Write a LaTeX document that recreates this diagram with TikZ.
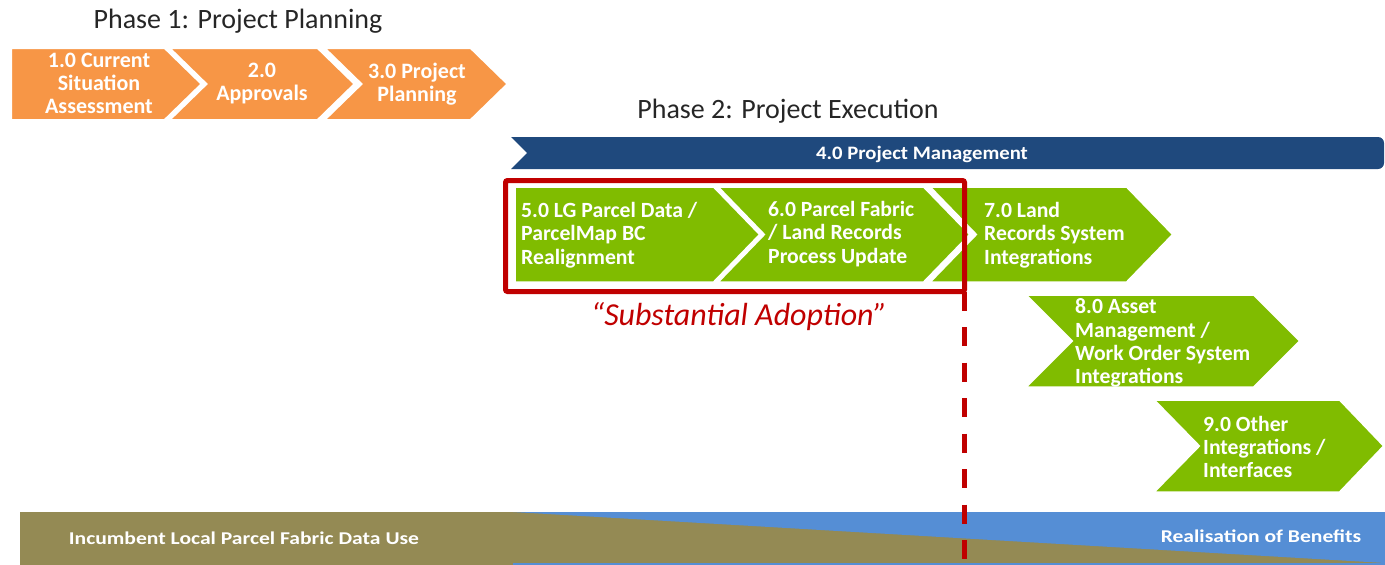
\documentclass[tikz,border=0pt]{standalone}
\usepackage{fontspec}
\setmainfont{Carlito}
\definecolor{orng}{HTML}{F79646}
\definecolor{grn}{HTML}{80BC00}
\definecolor{navy}{HTML}{1F497D}
\definecolor{olivebar}{HTML}{948A54}
\definecolor{skyb}{HTML}{558ED5}
\definecolor{dred}{HTML}{C00000}
% #1 style, #2 x left, #3 x body end, #4 y top, #5 y bottom, #6 tip depth, #7 notch depth
\newcommand\mychev[7]{\path[#1] (#2,#4) -- (#3,#4) -- ({#3+#6},{(#4+#5)/2}) -- (#3,#5) -- (#2,#5) -- ({#2+#7},{(#4+#5)/2}) -- cycle;}
\tikzset{
  orch/.style={fill=orng, draw=white, line width=4, line join=miter},
  grch/.style={fill=grn, draw=white, line width=3.5, line join=miter},
  otxt/.style={text=white, font=\fontsize{22}{23}\selectfont\bfseries, align=center, inner sep=0},
  gtxt/.style={text=white, font=\fontsize{21.7}{23.3}\selectfont\bfseries, align=left, anchor=west, inner sep=0},
  phase/.style={text=black!85, font=\fontsize{28}{32}\selectfont, inner sep=0},
  bartxt/.style={text=white, font=\fontsize{18}{22}\selectfont\bfseries, inner sep=0, xscale=1.2},
}
\begin{document}
\begin{tikzpicture}[x=1pt,y=-1pt]
\useasboundingbox (0,0) rectangle (1385,565);
% bottom bar
\fill[olivebar] (20,512) rectangle (1385,565);
\fill[skyb] (513,512) -- (1385,512) -- (1385,563) -- cycle;
\fill[skyb] (513,563) rectangle (1385,565);
\node[bartxt] (inc) at (244,538) {Incumbent Local Parcel Fabric Data Use};
\node[bartxt] (rob) at (1261,536) {Realisation of Benefits};
% phase 1
\node[phase] (p1) at (238,21) {Phase 1: Project Planning};
\mychev{orch}{10}{165}{47}{121}{38}{0}
\mychev{orch}{167}{318}{47}{121}{38}{38}
\mychev{orch}{322}{471}{47}{121}{38}{38}
\node[otxt] (t1) at (99,83) {1.0 Current\\Situation\\Assessment};
\node[otxt] (t2) at (262,84) {2.0\\Approvals};
\node[otxt] (t3) at (417,84) {3.0 Project\\Planning};
% phase 2
\node[phase] (p2) at (788,111) {Phase 2: Project Execution};
\fill[navy] (511,137) -- (527,153) -- (511,169) {[rounded corners=6] -- (1384,169) -- (1384,137) -- (1000,137)} -- cycle;
\node[bartxt, font=\fontsize{19}{22}\selectfont\bfseries, xscale=1.09/1.2] (pm) at (922,154) {4.0 Project Management};
\mychev{grch}{514}{714}{186}{283}{47}{0}
\mychev{grch}{716}{924}{186}{283}{47}{47}
\mychev{grch}{928}{1127}{186}{283}{47}{47}
\mychev{grch}{1024}{1254}{294}{388}{47}{47}
\mychev{grch}{1152}{1340}{399}{493}{45}{46}
\node[gtxt] (t5) at (521,235) {5.0 LG Parcel Data /\\ParcelMap BC\\Realignment};
\node[gtxt] (t6) at (768,234) {6.0 Parcel Fabric\\/ Land Records\\Process Update};
\node[gtxt] (t7) at (984,235) {7.0 Land\\Records System\\Integrations};
\node[gtxt] (t8) at (1075,343) {8.0 Asset\\Management /\\Work Order System\\Integrations};
\node[gtxt] (t9) at (1203,447) {9.0 Other\\Integrations /\\Interfaces};
% substantial adoption
\node[draw=dred, line width=5, rounded corners=2, minimum width=459pt, minimum height=111pt, inner sep=0, outer sep=0] (sa) at (735,236) {};
\coordinate (bot) at (965,565);
\draw[dred, line width=5, dash pattern=on 19pt off 16.5pt] (sa.south east) -- (sa.south east |- bot);
\node[text=dred, font=\fontsize{32}{36}\selectfont\itshape, inner sep=0] (sal) at (739,317) {“Substantial Adoption”};
\end{tikzpicture}
\end{document}
